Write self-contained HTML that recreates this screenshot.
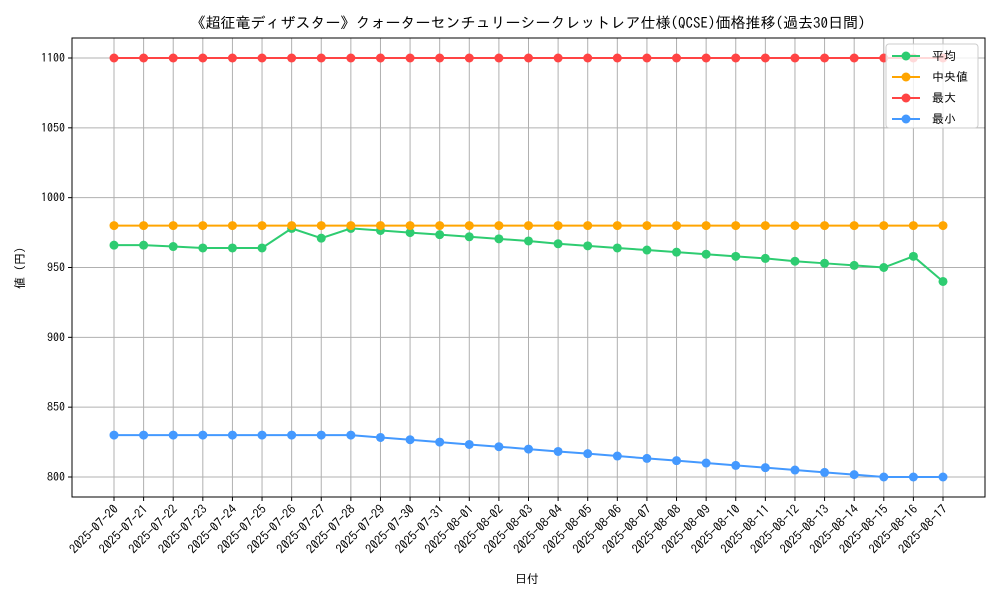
<!DOCTYPE html>
<html><head><meta charset="utf-8"><style>
body{margin:0;background:#fff;}
svg{display:block;font-family:"IPAGothic","Noto Sans CJK JP",sans-serif;}
</style></head><body>
<svg id="chart" width="1000" height="600">
<text x="528" y="28" text-anchor="middle" font-size="15">《超征竜ディザスター》クォーターセンチュリーシークレットレア仕様(QCSE)価格推移(過去30日間)</text>
<g id="grid"></g>
<g id="series"></g>
<rect x="72" y="38" width="913" height="459" fill="none" stroke="#000" stroke-width="1"/>
<g id="ticks"></g>
<text x="527" y="583" text-anchor="middle" font-size="12">日付</text>
<text x="24" y="268" text-anchor="middle" font-size="12" transform="rotate(-90 24 268)">値 (円)</text>
<g id="legend"></g>
</svg>
<script>
const dates=["2025-07-20","2025-07-21","2025-07-22","2025-07-23","2025-07-24","2025-07-25","2025-07-26","2025-07-27","2025-07-28","2025-07-29","2025-07-30","2025-07-31","2025-08-01","2025-08-02","2025-08-03","2025-08-04","2025-08-05","2025-08-06","2025-08-07","2025-08-08","2025-08-09","2025-08-10","2025-08-11","2025-08-12","2025-08-13","2025-08-14","2025-08-15","2025-08-16","2025-08-17"];
const avgVals=[966,966,965,964,964,964,978,971,978,976.5,975,973.5,972,970.5,969,967,965.5,964,962.5,961,959.5,958,956.5,954.5,953,951.5,950,958,940];
const medVals=[980,980,980,980,980,980,980,980,980,980,980,980,980,980,980,980,980,980,980,980,980,980,980,980,980,980,980,980,980];
const maxVals=[1100,1100,1100,1100,1100,1100,1100,1100,1100,1100,1100,1100,1100,1100,1100,1100,1100,1100,1100,1100,1100,1100,1100,1100,1100,1100,1100,1100,1100];
const minVals=[830,830,830,830,830,830,830,830,830,828.3,826.7,825,823.3,821.7,820,818.3,816.7,815,813.3,811.7,810,808.3,806.7,805,803.3,801.7,800,800,800];
const yTicks=[800,850,900,950,1000,1050,1100];
const seriesNames=["平均","中央値","最大","最小"];

const NS="http://www.w3.org/2000/svg";
const x=i=>114+i*(943-114)/(dates.length-1);
const y=v=>477-(v-800)*(477-58)/300;
function mk(tag,attrs,parent){const e=document.createElementNS(NS,tag);for(const k in attrs)e.setAttribute(k,attrs[k]);parent.appendChild(e);return e;}
const grid=document.getElementById('grid'),ticks=document.getElementById('ticks'),ser=document.getElementById('series'),leg=document.getElementById('legend');
dates.forEach((d,i)=>{
  const g=mk('line',{x1:x(i),x2:x(i),y1:38,y2:497,stroke:'#b0b0b0','stroke-width':1},grid);
  
  
  mk('line',{x1:x(i),x2:x(i),y1:497,y2:501,stroke:'#000'},ticks);
  const t=mk('text',{x:x(i)+5,y:510,'font-size':12.5,'text-anchor':'end',transform:`rotate(-45 ${x(i)+5} 510)`},ticks);
  t.textContent=d;
  
  
});
yTicks.forEach(v=>{
  const g=mk('line',{x1:72,x2:985,y1:y(v),y2:y(v),stroke:'#b0b0b0','stroke-width':1},grid);
  
  
  mk('line',{x1:68,x2:72,y1:y(v),y2:y(v),stroke:'#000'},ticks);
  const t=mk('text',{x:65,y:y(v)+4,'font-size':12,'text-anchor':'end'},ticks);
  t.textContent=v;
  
  
});
const all=[[avgVals,'#2ecc71'],[medVals,'#ffa500'],[maxVals,'#ff4444'],[minVals,'#4499ff']];
const snames=['average-series','median-series','max-series','min-series'];
all.forEach(([vals,c],k)=>{
  const g=mk('g',{},ser);
  
  
  mk('polyline',{points:vals.map((v,i)=>x(i)+','+y(v)).join(' '),fill:'none',stroke:c,'stroke-width':2},g);
  vals.forEach((v,i)=>{
    const p=mk('circle',{cx:x(i),cy:y(v),r:4.5,fill:c},g);
    
    
  });
});
mk('rect',{x:886,y:44,width:92,height:84,rx:3,fill:'rgba(255,255,255,0.8)',stroke:'#ccc'},leg);
all.forEach(([v,c],k)=>{
  const ly=56+k*21;
  const e=mk('g',{},leg);
  
  
  mk('line',{x1:892,x2:920,y1:ly,y2:ly,stroke:c,'stroke-width':2},e);
  mk('circle',{cx:906,cy:ly,r:4.5,fill:c},e);
  const t=mk('text',{x:932,y:ly+4,'font-size':12},e);
  t.textContent=seriesNames[k];
});
</script>
</body></html>
